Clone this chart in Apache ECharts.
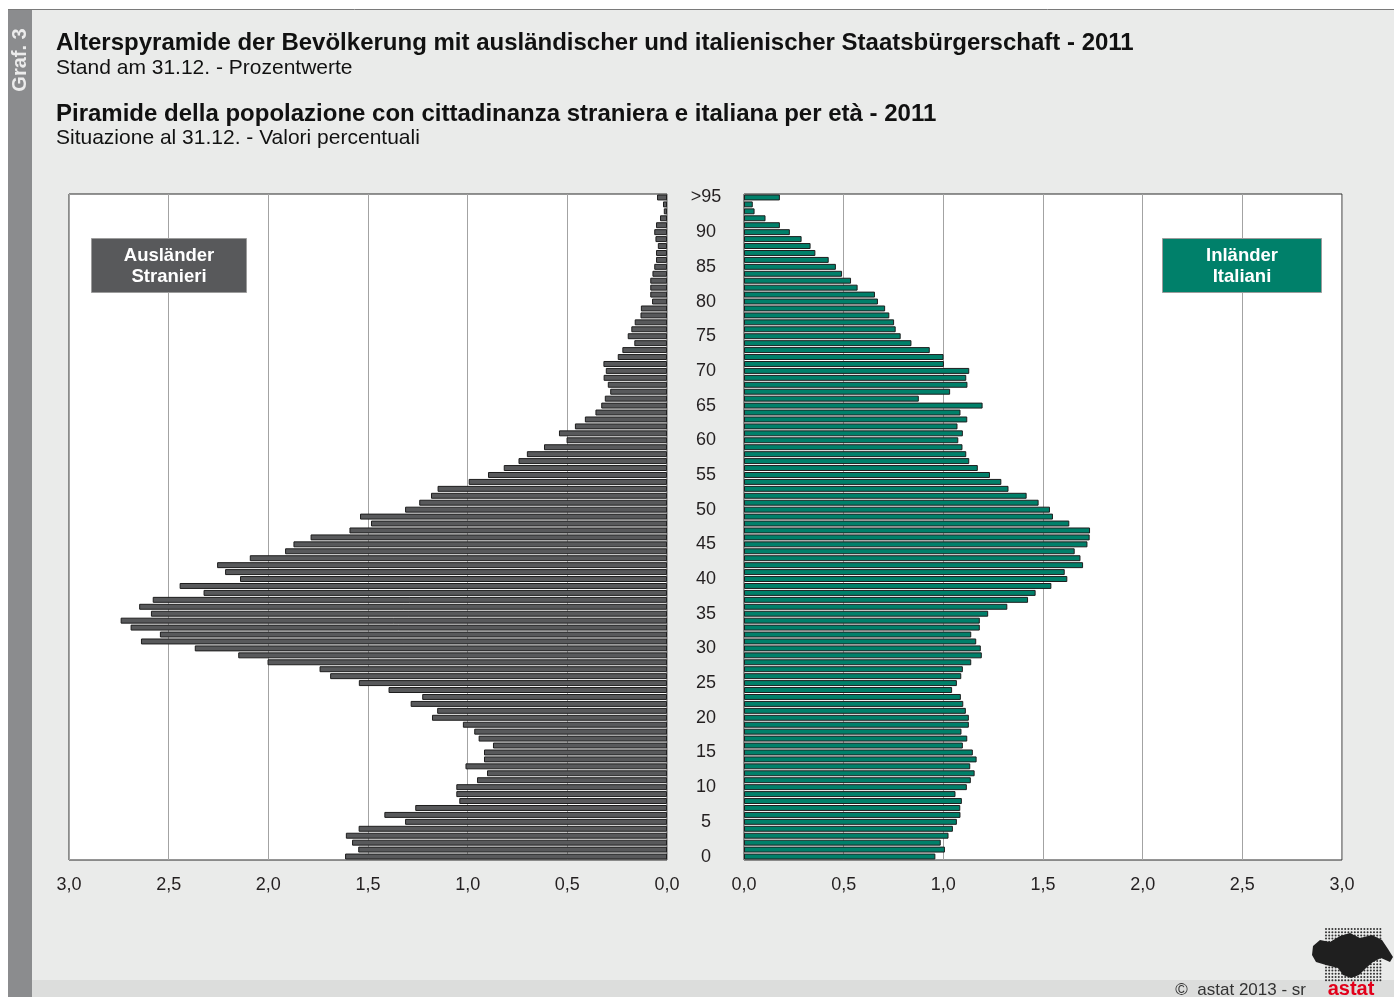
<!DOCTYPE html>
<html>
<head>
<meta charset="utf-8">
<script src="https://cdn.jsdelivr.net/npm/echarts@6/dist/echarts.min.js"></script>
<style>
html,body{margin:0;padding:0;background:#fff;}
#chart{width:1394px;height:997px;}
</style>
</head>
<body>
<div id="chart"></div>
<script>
// Age categories (bottom to top)
const ages = ['0','1','2','3','4','5','6','7','8','9','10','11','12','13','14','15','16','17','18','19',
'20','21','22','23','24','25','26','27','28','29','30','31','32','33','34','35','36','37','38','39',
'40','41','42','43','44','45','46','47','48','49','50','51','52','53','54','55','56','57','58','59',
'60','61','62','63','64','65','66','67','68','69','70','71','72','73','74','75','76','77','78','79',
'80','81','82','83','84','85','86','87','88','89','90','91','92','93','94','>95'];

// Ausländer / Stranieri (% by age, 0 .. >95)
const foreigners = [1.615,1.549,1.580,1.611,1.547,1.314,1.418,1.263,1.042,1.057,
1.057,0.953,0.903,1.011,0.918,0.918,0.873,0.945,0.967,1.024,
1.179,1.153,1.286,1.228,1.397,1.546,1.690,1.743,2.004,2.151,
2.369,2.639,2.544,2.691,2.741,2.589,2.648,2.580,2.325,2.445,
2.142,2.217,2.257,2.093,1.916,1.874,1.788,1.593,1.485,1.540,
1.314,1.243,1.184,1.151,0.995,0.898,0.819,0.745,0.703,0.617,
0.504,0.542,0.462,0.412,0.359,0.330,0.312,0.285,0.297,0.318,
0.307,0.319,0.247,0.224,0.164,0.197,0.179,0.162,0.133,0.131,
0.075,0.084,0.084,0.084,0.073,0.064,0.055,0.055,0.046,0.058,
0.064,0.055,0.035,0.016,0.020,0.050];

// Inländer / Italiani (% by age, 0 .. >95)
const italians = [0.960,1.008,0.987,1.026,1.048,1.068,1.086,1.085,1.093,1.061,
1.118,1.138,1.157,1.135,1.167,1.148,1.098,1.120,1.091,1.128,
1.128,1.113,1.100,1.088,1.044,1.068,1.090,1.098,1.140,1.193,
1.188,1.165,1.140,1.183,1.183,1.225,1.321,1.425,1.463,1.542,
1.622,1.609,1.701,1.688,1.659,1.723,1.734,1.736,1.632,1.550,
1.535,1.478,1.418,1.327,1.291,1.234,1.173,1.130,1.115,1.096,
1.075,1.098,1.071,1.120,1.086,1.197,0.877,1.034,1.121,1.115,
1.130,1.003,1.001,0.932,0.840,0.786,0.761,0.753,0.729,0.708,
0.672,0.657,0.570,0.537,0.492,0.461,0.425,0.358,0.334,0.289,
0.230,0.180,0.108,0.053,0.044,0.180];

const FONT = '"Liberation Sans", Arial, Helvetica, sans-serif';
const fmt = v => v.toFixed(1).replace('.', ',');

// decorative dots for the logo
const dots = [];
for (let y = 929; y <= 981; y += 3.2) {
  for (let x = 1326; x <= 1381; x += 3.2) {
    dots.push({type:'circle', z:101, silent:true, shape:{cx:x, cy:y, r:1.0}, style:{fill:'#333'}});
  }
}

const chart = echarts.init(document.getElementById('chart'), null, {renderer:'canvas'});
chart.setOption({
  animation: false,
  backgroundColor: '#ffffff',
  textStyle: {fontFamily: FONT},
  grid: [
    {left:69, top:194, width:598, height:666, show:true, backgroundColor:'#ffffff', borderColor:'#2b2b2b', borderWidth:1, containLabel:false, outerBoundsMode:'none'},
    {left:744, top:194, width:598, height:666, show:true, backgroundColor:'#ffffff', borderColor:'#2b2b2b', borderWidth:1, containLabel:false, outerBoundsMode:'none'}
  ],
  xAxis: [
    {type:'value', gridIndex:0, min:0, max:3, interval:0.5, inverse:true,
     axisLine:{show:false}, axisTick:{show:false},
     splitLine:{show:true, lineStyle:{color:'#a3a3a3', width:1}},
     axisLabel:{formatter:fmt, fontSize:18, color:'#231f20', margin:16, fontFamily:FONT}},
    {type:'value', gridIndex:1, min:0, max:3, interval:0.5,
     axisLine:{show:false}, axisTick:{show:false},
     splitLine:{show:true, lineStyle:{color:'#a3a3a3', width:1}},
     axisLabel:{formatter:fmt, fontSize:18, color:'#231f20', margin:16, fontFamily:FONT}}
  ],
  yAxis: [
    {type:'category', gridIndex:0, data:ages, position:'right',
     axisLine:{show:false}, axisTick:{show:false}, splitLine:{show:false},
     axisLabel:{show:true, interval:(i)=> i % 5 === 0, align:'center', margin:39, fontSize:18, color:'#231f20', fontFamily:FONT}},
    {type:'category', gridIndex:1, data:ages,
     axisLine:{show:false}, axisTick:{show:false}, splitLine:{show:false},
     axisLabel:{show:false}}
  ],
  series: [
    {type:'bar', name:'Ausländer', xAxisIndex:0, yAxisIndex:0, data:foreigners, barCategoryGap:'14%',
     itemStyle:{color:'#58595b', borderColor:'#1e1e1e', borderWidth:1}, silent:true},
    {type:'bar', name:'Inländer', xAxisIndex:1, yAxisIndex:1, data:italians, barCategoryGap:'14%',
     itemStyle:{color:'#00806a', borderColor:'#1e1e1e', borderWidth:1}, silent:true}
  ],
  graphic: [
    {type:'rect', z:-10, silent:true, shape:{x:8, y:9, width:1386, height:988}, style:{fill:'#eaebea'}},
    {type:'line', z:-9, silent:true, shape:{x1:8, y1:9.5, x2:1394, y2:9.5}, style:{stroke:'#7a7a7a', lineWidth:1}},
    {type:'rect', z:-9, silent:true, shape:{x:32, y:980, width:1362, height:17}, style:{fill:'#dcdddc'}},
    {type:'rect', z:-8, silent:true, shape:{x:8, y:10, width:24, height:987}, style:{fill:'#8b8c8e'}},
    {type:'text', z:100, silent:true, x:20, y:60, rotation:Math.PI/2,
     style:{text:'Graf. 3', fill:'#ececec', font:'bold 20px '+FONT, textAlign:'center', textVerticalAlign:'middle'}},
    {type:'text', z:100, silent:true, x:56, y:43,
     style:{text:'Alterspyramide der Bevölkerung mit ausländischer und italienischer Staatsbürgerschaft - 2011', fill:'#111', font:'bold 24px '+FONT, textVerticalAlign:'middle'}},
    {type:'text', z:100, silent:true, x:56, y:68,
     style:{text:'Stand am 31.12. - Prozentwerte', fill:'#111', font:'21px '+FONT, textVerticalAlign:'middle'}},
    {type:'text', z:100, silent:true, x:56, y:114,
     style:{text:'Piramide della popolazione con cittadinanza straniera e italiana per età - 2011', fill:'#111', font:'bold 24px '+FONT, textVerticalAlign:'middle'}},
    {type:'text', z:100, silent:true, x:56, y:138,
     style:{text:'Situazione al 31.12. - Valori percentuali', fill:'#111', font:'21px '+FONT, textVerticalAlign:'middle'}},
    {type:'rect', z:100, silent:true, shape:{x:91.5, y:238.5, width:155, height:54}, style:{fill:'#58595b', stroke:'#9c9c9c', lineWidth:1}},
    {type:'text', z:101, silent:true, x:169, y:266,
     style:{text:'Ausländer\nStranieri', fill:'#ffffff', font:'bold 18.5px '+FONT, textAlign:'center', textVerticalAlign:'middle', lineHeight:21}},
    {type:'rect', z:100, silent:true, shape:{x:1162.5, y:238.5, width:159, height:54}, style:{fill:'#00806a', stroke:'#9c9c9c', lineWidth:1}},
    {type:'text', z:101, silent:true, x:1242, y:266,
     style:{text:'Inländer\nItaliani', fill:'#ffffff', font:'bold 18.5px '+FONT, textAlign:'center', textVerticalAlign:'middle', lineHeight:21}},
    {type:'text', z:100, silent:true, x:1306, y:990,
     style:{text:'©  astat 2013 - sr', fill:'#333', font:'17px '+FONT, textAlign:'right', textVerticalAlign:'middle'}},
    ...dots,
    {type:'polygon', z:102, silent:true,
     shape:{points:[[1313,946],[1320,940],[1330,942],[1340,936],[1350,933],[1360,938],[1372,935],[1382,940],[1388,949],[1393,957],[1390,962],[1381,958],[1373,962],[1366,968],[1359,975],[1351,978],[1343,975],[1338,968],[1326,965],[1316,962],[1312,955]]},
     style:{fill:'#1f1f1f'}},
    {type:'text', z:103, silent:true, x:1351, y:989,
     style:{text:'astat', fill:'#e2001a', font:'bold 20px '+FONT, textAlign:'center', textVerticalAlign:'middle'}}
  ]
});
</script>
</body>
</html>
